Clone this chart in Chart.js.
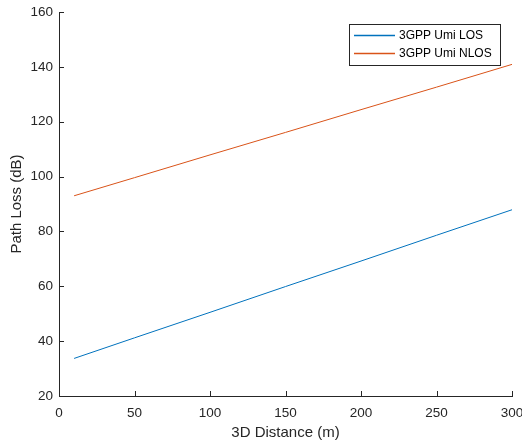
<!DOCTYPE html>
<html>
<head>
<meta charset="utf-8">
<script src="https://cdn.jsdelivr.net/npm/chart.js@4"></script>
<style>
  html, body { margin: 0; padding: 0; background: #fff; }
  #wrap { width: 522px; height: 444px; }
</style>
</head>
<body>
<div id="wrap"><canvas id="pl"></canvas></div>
<script>
// distances (m) and path loss values
const distance = [10, 50, 100, 150, 200, 250, 300];
const losValues = [33.7, 41.2, 50.5, 59.9, 69.2, 78.6, 87.9];
const nlosValues = [93.0, 99.6, 107.9, 116.1, 124.4, 132.6, 140.9];
const seriesNames = ['3GPP Umi LOS', '3GPP Umi NLOS'];
const seriesColors = ['#0072BD', '#D95319'];

const axisColor = '#262626';
const fontFamily = '"Liberation Sans", Arial, Helvetica, sans-serif';

function toPoints(ys) {
  return distance.map((d, i) => ({ x: d, y: ys[i] }));
}

// MATLAB style ticks pointing into the axes
const innerTicks = {
  id: 'innerTicks',
  afterDatasetsDraw(chart) {
    const ctx = chart.ctx;
    const { x, y } = chart.scales;
    ctx.save();
    ctx.strokeStyle = axisColor;
    ctx.lineWidth = 1;
    ctx.beginPath();
    x.ticks.forEach(t => {
      const px = Math.round(x.getPixelForValue(t.value)) + 0.5;
      ctx.moveTo(px, y.bottom);
      ctx.lineTo(px, y.bottom - 5);
    });
    y.ticks.forEach(t => {
      const py = Math.round(y.getPixelForValue(t.value)) + 0.5;
      ctx.moveTo(x.left, py);
      ctx.lineTo(x.left + 5, py);
    });
    ctx.stroke();
    ctx.restore();
  }
};

// boxed legend in the upper right corner
const boxLegend = {
  id: 'boxLegend',
  afterDraw(chart) {
    const ctx = chart.ctx;
    const bx = 349.5, by = 24.5, bw = 151, bh = 41;
    ctx.save();
    ctx.fillStyle = '#fff';
    ctx.fillRect(bx, by, bw, bh);
    ctx.strokeStyle = axisColor;
    ctx.lineWidth = 1;
    ctx.strokeRect(bx, by, bw, bh);
    ctx.font = '12px ' + fontFamily;
    ctx.textBaseline = 'middle';
    seriesNames.forEach((name, i) => {
      const ry = 35.5 + i * 18;
      ctx.strokeStyle = seriesColors[i];
      ctx.lineWidth = 1.3;
      ctx.beginPath();
      ctx.moveTo(354, ry);
      ctx.lineTo(395, ry);
      ctx.stroke();
      ctx.fillStyle = '#000';
      ctx.fillText(name, 399, ry + 0.5);
    });
    ctx.restore();
  }
};

new Chart(document.getElementById('pl'), {
  type: 'line',
  data: {
    datasets: [
      { label: seriesNames[0], data: toPoints(losValues), borderColor: seriesColors[0], borderWidth: 1, pointRadius: 0, tension: 0 },
      { label: seriesNames[1], data: toPoints(nlosValues), borderColor: seriesColors[1], borderWidth: 1, pointRadius: 0, tension: 0 }
    ]
  },
  options: {
    responsive: true,
    maintainAspectRatio: false,
    animation: false,
    layout: { padding: { top: 12, right: 10, left: 0, bottom: 0 } },
    plugins: { legend: { display: false }, tooltip: { enabled: false } },
    scales: {
      x: {
        type: 'linear',
        min: 0, max: 300,
        ticks: { stepSize: 50, color: axisColor, font: { size: 13.5, family: fontFamily }, padding: 9, maxRotation: 0 },
        grid: { display: false, drawTicks: false },
        border: { color: axisColor, width: 1 },
        title: { display: true, text: '3D Distance (m)', color: axisColor, font: { size: 15, family: fontFamily }, padding: { top: 0, bottom: 2 } },
        afterFit(s) { s.height = 48; s.paddingLeft = 0; s.paddingRight = 0; }
      },
      y: {
        min: 20, max: 160,
        ticks: { stepSize: 20, color: axisColor, font: { size: 13.5, family: fontFamily }, padding: 6 },
        grid: { display: false, drawTicks: false },
        border: { color: axisColor, width: 1 },
        title: { display: true, text: 'Path Loss (dB)', color: axisColor, font: { size: 15, family: fontFamily }, padding: { top: 8, bottom: 0 } },
        afterFit(s) { s.width = 59; s.paddingTop = 0; s.paddingBottom = 0; }
      }
    }
  },
  plugins: [innerTicks, boxLegend]
});
</script>
</body>
</html>
